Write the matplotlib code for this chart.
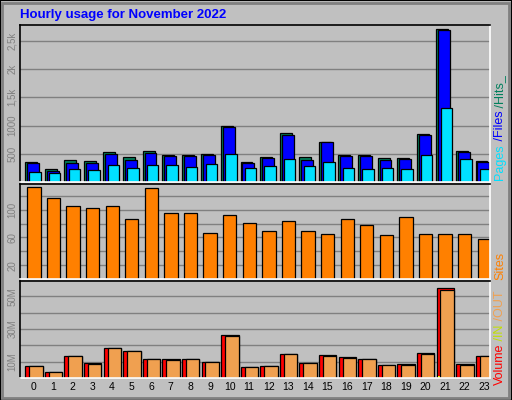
import matplotlib
matplotlib.use("Agg")
import matplotlib.pyplot as plt
from matplotlib.patches import Rectangle
import numpy as np

hours = list(range(24))
hits = [357,232,393,375,536,446,554,482,482,500,1000,357,446,875,446,714,482,482,429,429,857,2714,554,375]
files = [339,202,339,339,500,393,518,464,464,482,982,339,429,839,393,714,464,464,393,411,839,2696,536,357]
pages = [179,161,232,214,304,250,304,304,268,321,500,250,286,411,286,357,250,232,250,232,482,1304,411,232]
sites = [132,117,105,102,105,86,131,95,95,66,92,81,69,83,69,65,86,78,63,90,65,65,65,57]
vol_total = [7.6,3.9,13.7,9.4,18.6,16.7,11.8,11.8,11.8,10,26.5,6.9,7.6,14.9,9.4,14.3,13.1,11.8,8.2,8.8,15.5,55.3,8.8,13.7]
vol_in = [0,0,0,0,0,0,0,0,0,0,0,0,0,0,0,0,0,0,0,0,0,1.5,0,0]
vol_out = [7.6,3.9,13.7,8.8,18.6,16.7,11.8,11.2,11.8,10,25.9,6.9,7.6,14.9,9.4,13.7,12.4,11.8,8.2,8.2,14.9,54.1,8.2,13.7]

plt.rcParams['font.family'] = ['Liberation Sans', 'DejaVu Sans']
BG = '#c0c0c0'
W, H = 512, 400
fig = plt.figure(figsize=(W/100, H/100), dpi=100, facecolor=BG)

fig.patches.append(Rectangle((0, 0), 1, 1, transform=fig.transFigure, fill=False, ec='black', lw=1.5))
fig.patches.append(Rectangle((2/W, 2/H), 1-5/W, 1-5/H, transform=fig.transFigure, fill=False, ec='#808080', lw=2))

def ax_at(y0, y1):
    ax = fig.add_axes([20/W, 1-y1/H, 470/W, (y1-y0)/H])
    ax.set_facecolor(BG)
    ax.set_xlim(0, 24)
    ax.set_xticks([])
    for s in ['left', 'top']:
        ax.spines[s].set_color('black')
    for s in ['right', 'bottom']:
        ax.spines[s].set_color('white')
    for s in ax.spines.values():
        s.set_linewidth(1.2)
    ax.tick_params(axis='y', length=0, labelsize=7, labelcolor='#808080', pad=2)
    ax.grid(axis='y', color='#808080', lw=1)
    ax.set_axisbelow(True)
    return ax

x = np.array(hours)
k = dict(align='edge', edgecolor='black', linewidth=0.9)

ax1 = ax_at(25, 182)
ax1.bar(x+0.26, hits, 0.61, color='#00805c', **k)
ax1.bar(x+0.36, files, 0.61, color='#0000ff', **k)
ax1.bar(x+0.48, pages, 0.58, color='#00e0ff', **k)
ax1.set_ylim(0, 2780)
ax1.set_yticks([500, 1000, 1500, 2000, 2500], ['500', '1000', '1,5k', '2k', '2,5k'])

ax2 = ax_at(184, 279)
ax2.bar(x+0.37, sites, 0.68, color='#ff8000', **k)
ax2.set_ylim(0, 137)
ax2.set_yticks([20, 40, 60, 80, 100, 120], ['20', '', '60', '', '100', ''])

ax3 = ax_at(281, 378)
ax3.bar(x+0.27, vol_total, 0.89, color='#ff0000', **k)
ax3.bar(x+0.33, vol_in, 0.2, color='#ffff00', align='edge', linewidth=0)
ax3.bar(x+0.47, vol_out, 0.69, color='#f0a050', **k)
ax3.set_ylim(0, 59.5)
ax3.set_yticks([10, 20, 30, 40, 50], ['10M', '', '30M', '', '50M'])

for ax in (ax1, ax2, ax3):
    for lab in ax.get_yticklabels():
        lab.set_rotation(90)
        lab.set_va('center')

for h in hours:
    ax3.text(h+0.7, -2.5, str(h), ha='center', va='top', fontsize=7.5, clip_on=False)

fig.text(20/W, 1-15/H, 'Hourly usage for November 2022', color='#0000ff',
         fontsize=9.5, fontweight='bold', va='center')

fig.canvas.draw()
r = fig.canvas.get_renderer()

def vlabel(parts, ybot):
    y = ybot
    for txt, col in parts:
        t = fig.text(500/W, y/H, txt, color=col, rotation=90, fontsize=9,
                     ha='center', va='bottom')
        bb = t.get_window_extent(r)
        y += bb.height

vlabel([('Pages', '#00e0ff'), (' /Files', '#0000ff'), (' /Hits_', '#00805c')], H-180)
vlabel([('Sites', '#ff8000')], H-280)
vlabel([('Volume', '#ff0000'), (' /IN', '#c0e000'), (' /OUT', '#f0a050')], H-385)

fig.savefig('out.png', dpi=100, facecolor=BG)
